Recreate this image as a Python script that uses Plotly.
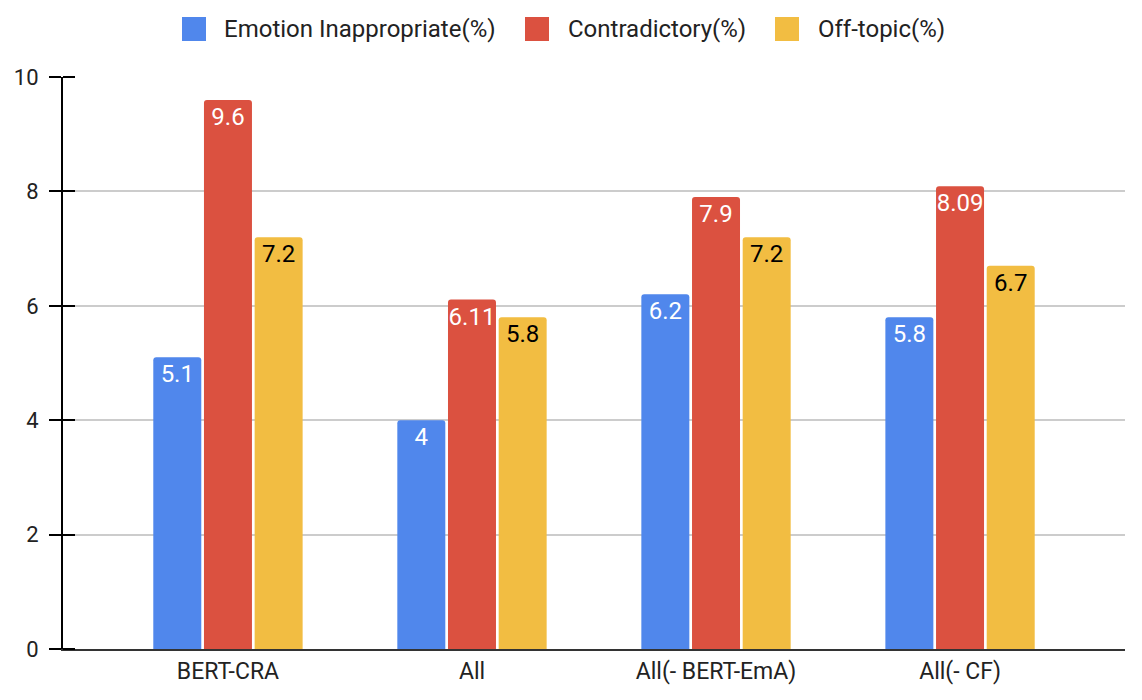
import plotly.graph_objects as go

categories = ["BERT-CRA", "All", "All(- BERT-EmA)", "All(- CF)"]
series_names = ["Emotion Inappropriate(%)", "Contradictory(%)", "Off-topic(%)"]
emotion_inappropriate = [5.1, 4, 6.2, 5.8]
contradictory = [9.6, 6.11, 7.9, 8.09]
off_topic = [7.2, 5.8, 7.2, 6.7]
y_ticks = [0, 2, 4, 6, 8, 10]

colors = ["#5087EC", "#DB5140", "#F2BD42"]
text_colors = ["white", "white", "black"]
FONT = "Roboto"

OFF = 8  # page body margin
W, H = 1142 - OFF, 700 - OFF
ML, MR, MT, MB = 63 - OFF, 17, 77 - OFF, 51
PW, PH = W - ML - MR, H - MT - MB

fig = go.Figure()
for name, vals, col, tcol in zip(series_names,
                                 [emotion_inappropriate, contradictory, off_topic],
                                 colors, text_colors):
    fig.add_trace(go.Bar(
        x=categories, y=vals, name=name,
        marker=dict(color=col, line=dict(width=0)),
        text=[str(v) for v in vals],
        textposition="inside", insidetextanchor="end", textangle=0,
        constraintext="none",
        insidetextfont=dict(family=FONT, size=24, color=tcol),
        hoverinfo="skip", showlegend=False,
    ))

# custom legend (big square swatches like the reference); positions in screen px
legend_sq_x = [182, 525, 775]
legend_txt_x = [222, 566, 816]
sq_top, sq_size, txt_cy = 17, 24, 29
def px_x(p):
    return (p - OFF - ML) / PW
def px_y(p):
    return (H - MB - (p - OFF)) / PH
for name, col, sx, tx in zip(series_names, colors, legend_sq_x, legend_txt_x):
    fig.add_shape(type="rect", xref="paper", yref="paper",
                  x0=px_x(sx), x1=px_x(sx + sq_size),
                  y0=px_y(sq_top + sq_size), y1=px_y(sq_top),
                  fillcolor=col, line=dict(width=0), layer="above")
    fig.add_annotation(xref="paper", yref="paper", x=px_x(tx), y=px_y(txt_cy),
                       xanchor="left", yanchor="middle", text=name, showarrow=False,
                       font=dict(family=FONT, size=24, color="#222222"))

fig.update_layout(
    width=W, height=H,
    margin=dict(l=ML, r=MR, t=MT, b=MB, pad=0, autoexpand=False),
    paper_bgcolor="white", plot_bgcolor="white",
    barmode="group", bargap=0.377, bargroupgap=0.053,
    barcornerradius=3,
    font=dict(family=FONT, size=22, color="#222222"),
    showlegend=False,
    xaxis=dict(range=[-0.676, 3.676], showgrid=False, showline=True,
               linecolor="#333333", linewidth=2, ticks="",
               tickfont=dict(family=FONT, size=23, color="#222222"),
               zeroline=False, fixedrange=True, automargin=False),
    yaxis=dict(range=[0, 10], tickvals=y_ticks, ticktext=[str(t) for t in y_ticks],
               showgrid=True, gridcolor="#CCCCCC", gridwidth=1.5,
               showline=True, linecolor="black", linewidth=2,
               ticks="outside", ticklen=12, tickwidth=2, tickcolor="black",
               minor=dict(ticks="inside", tickvals=y_ticks, ticklen=12, tickwidth=2,
                          tickcolor="black", showgrid=False),
               tickfont=dict(family=FONT, size=22, color="#222222"),
               ticklabelstandoff=6,
               zeroline=False, fixedrange=True, automargin=False),
)

fig.write_html("out.html")
